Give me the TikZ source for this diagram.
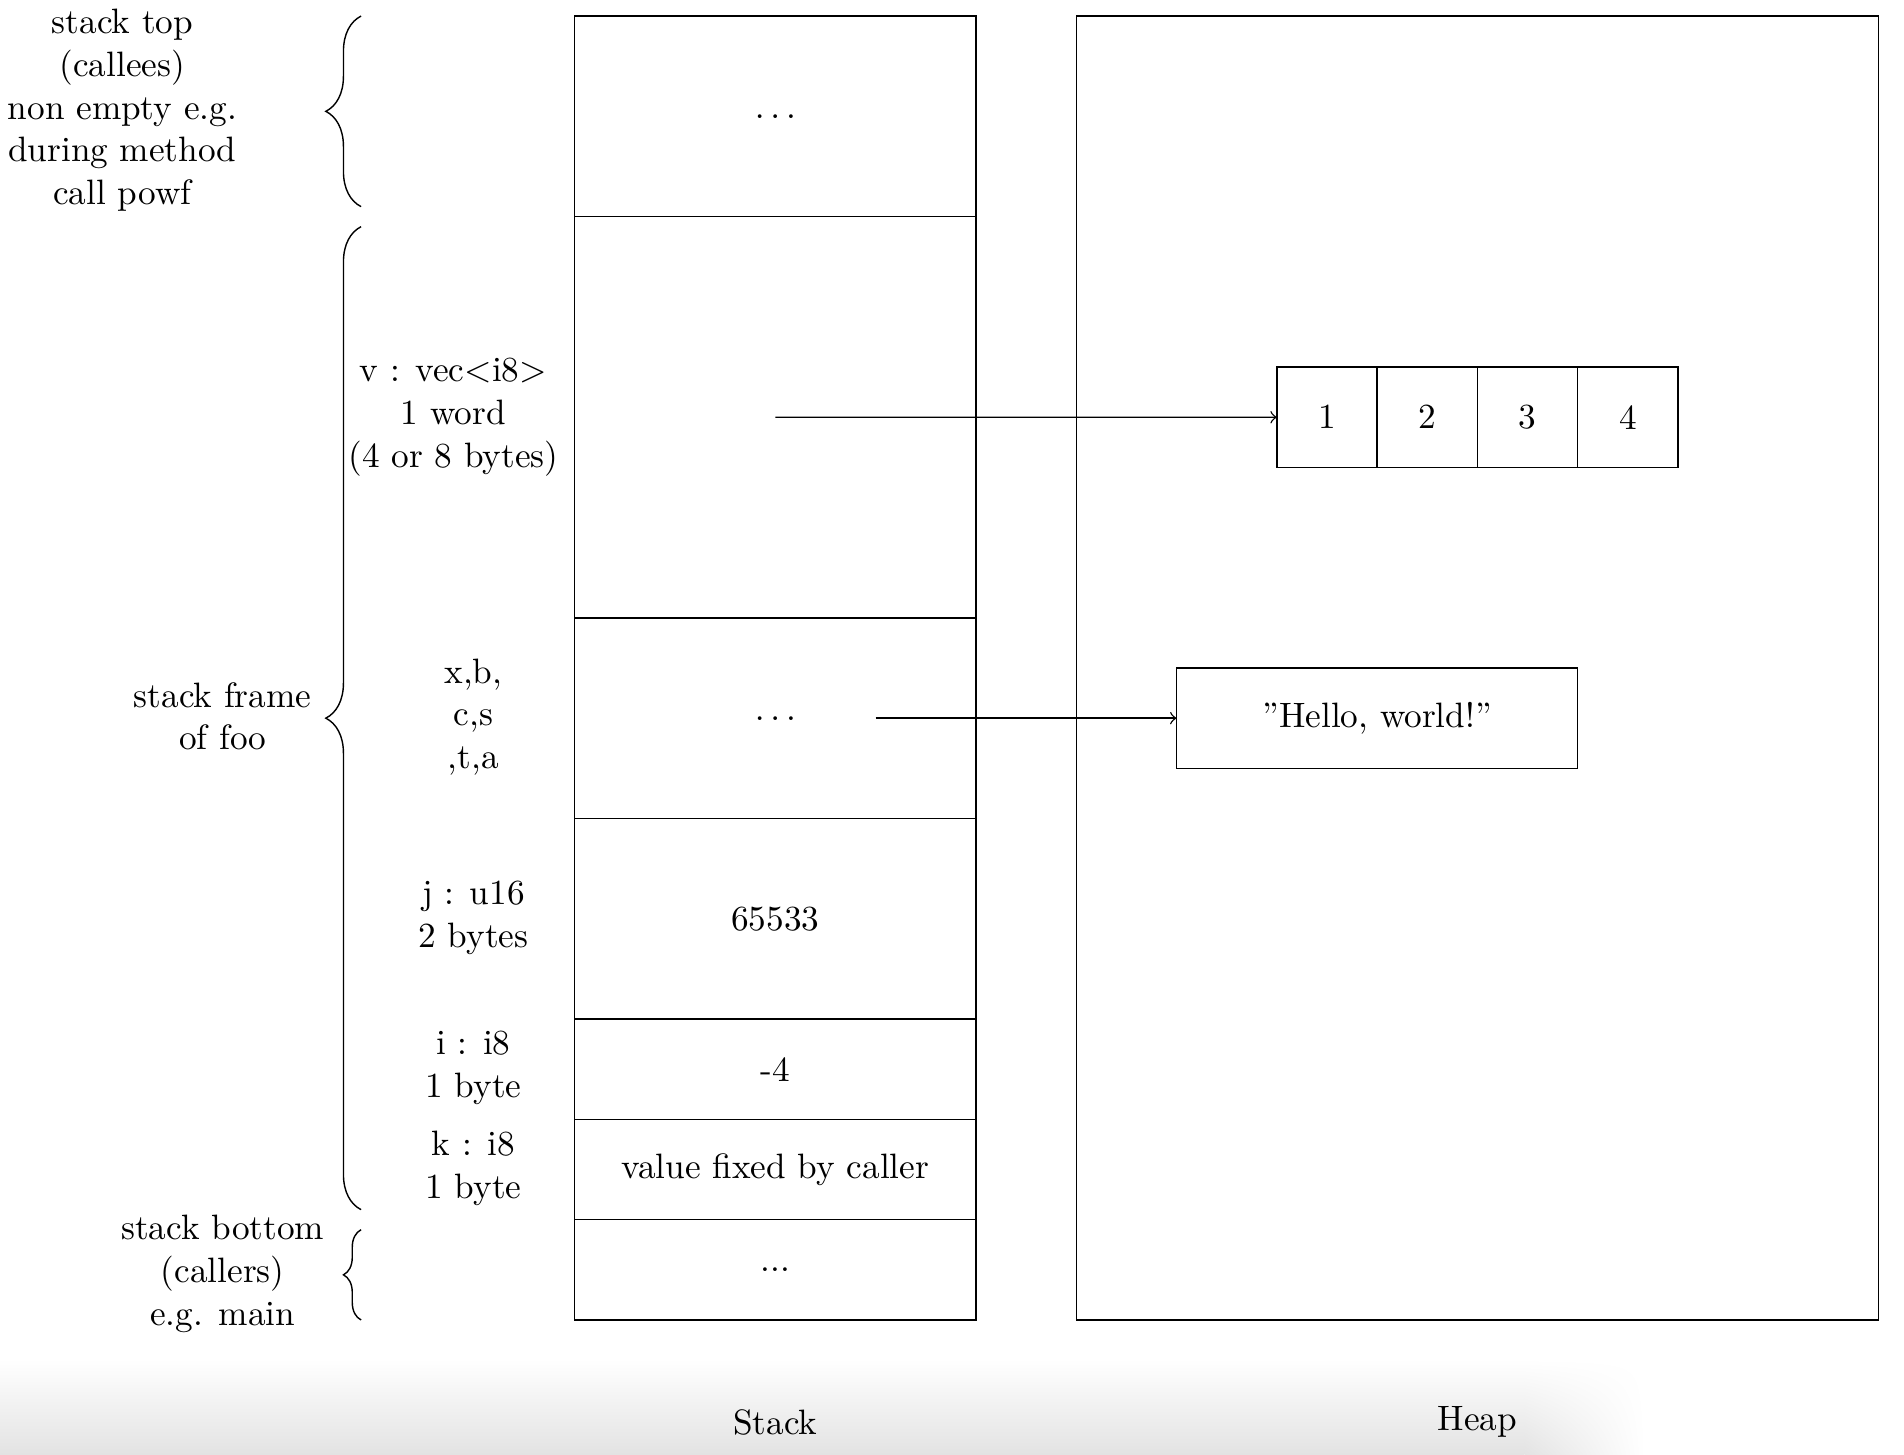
\documentclass[tikz,border=0pt]{standalone}
\usetikzlibrary{decorations.pathreplacing,calc,shadings}
\begin{document}
\begin{tikzpicture}[
  cell/.style={draw, minimum width=4cm, inner sep=0pt, outer sep=0pt, anchor=north west},
  heapbox/.style={draw, minimum width=8cm, minimum height=13cm, inner sep=0pt, outer sep=0pt, anchor=north west},
  lbl/.style={align=center, inner sep=0pt, font=\linespread{1.01}\selectfont},
  arrcell/.style={draw, minimum width=1cm, minimum height=1cm, inner sep=0pt, outer sep=0pt},
  link/.style={->},
  brc/.style={decorate, decoration={brace, amplitude=#1}},
  brc/.default=10pt
]
\useasboundingbox (0,0) rectangle (18.983,-14.497);
% screenshot shadow at the bottom
\shade[top color=white, bottom color=black!11] (0,-13.55) rectangle (15.2,-14.497);
\shade[upper left=white, upper right=white, lower left=black!11, lower right=white] (15.2,-13.55) rectangle (16.4,-14.497);

% stack cells
\node[cell, minimum height=2cm] (s0) at (5.73,-0.16) {$\dots$};
\node[cell, minimum height=4cm] (s1) at (5.73,-2.16) {};
\node[cell, minimum height=2cm] (s2) at (5.73,-6.16) {$\dots$};
\node[cell, minimum height=2cm] (s3) at (5.73,-8.16) {65533};
\node[cell, minimum height=1cm] (s4) at (5.73,-10.16) {-4};
\node[cell, minimum height=1cm] (s5) at (5.73,-11.16) {value fixed by caller};
\node[cell, minimum height=1cm] (s6) at (5.73,-12.16) {...};

% heap
\node[heapbox] (heap) at (10.73,-0.16) {};
\node[arrcell] (a1) at (13.23,-4.16) {1};
\node[arrcell, anchor=west] (a2) at (a1.east) {2};
\node[arrcell, anchor=west] (a3) at (a2.east) {3};
\node[arrcell, anchor=west] (a4) at (a3.east) {4};
\node[draw, minimum width=4cm, minimum height=1cm, inner sep=0pt, outer sep=0pt] (hello) at (13.73,-7.16) {''Hello, world!''};

% connectors
\coordinate (xbstart) at (8.73,-7.16);
\draw[link] (s1.center) -- (a1.west);
\draw[link] (xbstart) -- (hello.west);

% variable labels
\node[lbl] (lv) at (4.52,-4.16) {v : vec<i8>\\1 word\\(4 or 8 bytes)};
\node[lbl] (lxb) at (4.72,-7.15) {x,b,\\c,s\\,t,a};
\node[lbl] (lj) at (4.72,-9.15) {j : u16\\2 bytes};
\node[lbl] (li) at (4.72,-10.65) {i : i8\\1 byte};
\node[lbl] (lk) at (4.72,-11.65) {k : i8\\1 byte};

% braces
\draw[brc] (3.6,-2.06) -- (3.6,-0.16);
\draw[brc] (3.6,-12.06) -- (3.6,-2.26);
\draw[brc=5pt] (3.6,-13.16) -- (3.6,-12.26);

\node[lbl] (ltop) at (1.22,-1.10) {stack top\\(callees)\\non empty e.g.\\during method\\call powf};
\node[lbl] (lframe) at (2.22,-7.14) {stack frame\\of foo};
\node[lbl] (lbot) at (2.22,-12.70) {stack bottom\\(callers)\\e.g. main};

% titles
\node[anchor=base] (tstack) at (7.73,-14.30) {Stack};
\node[anchor=base] (theap) at (14.73,-14.26) {Heap};
\end{tikzpicture}
\end{document}
